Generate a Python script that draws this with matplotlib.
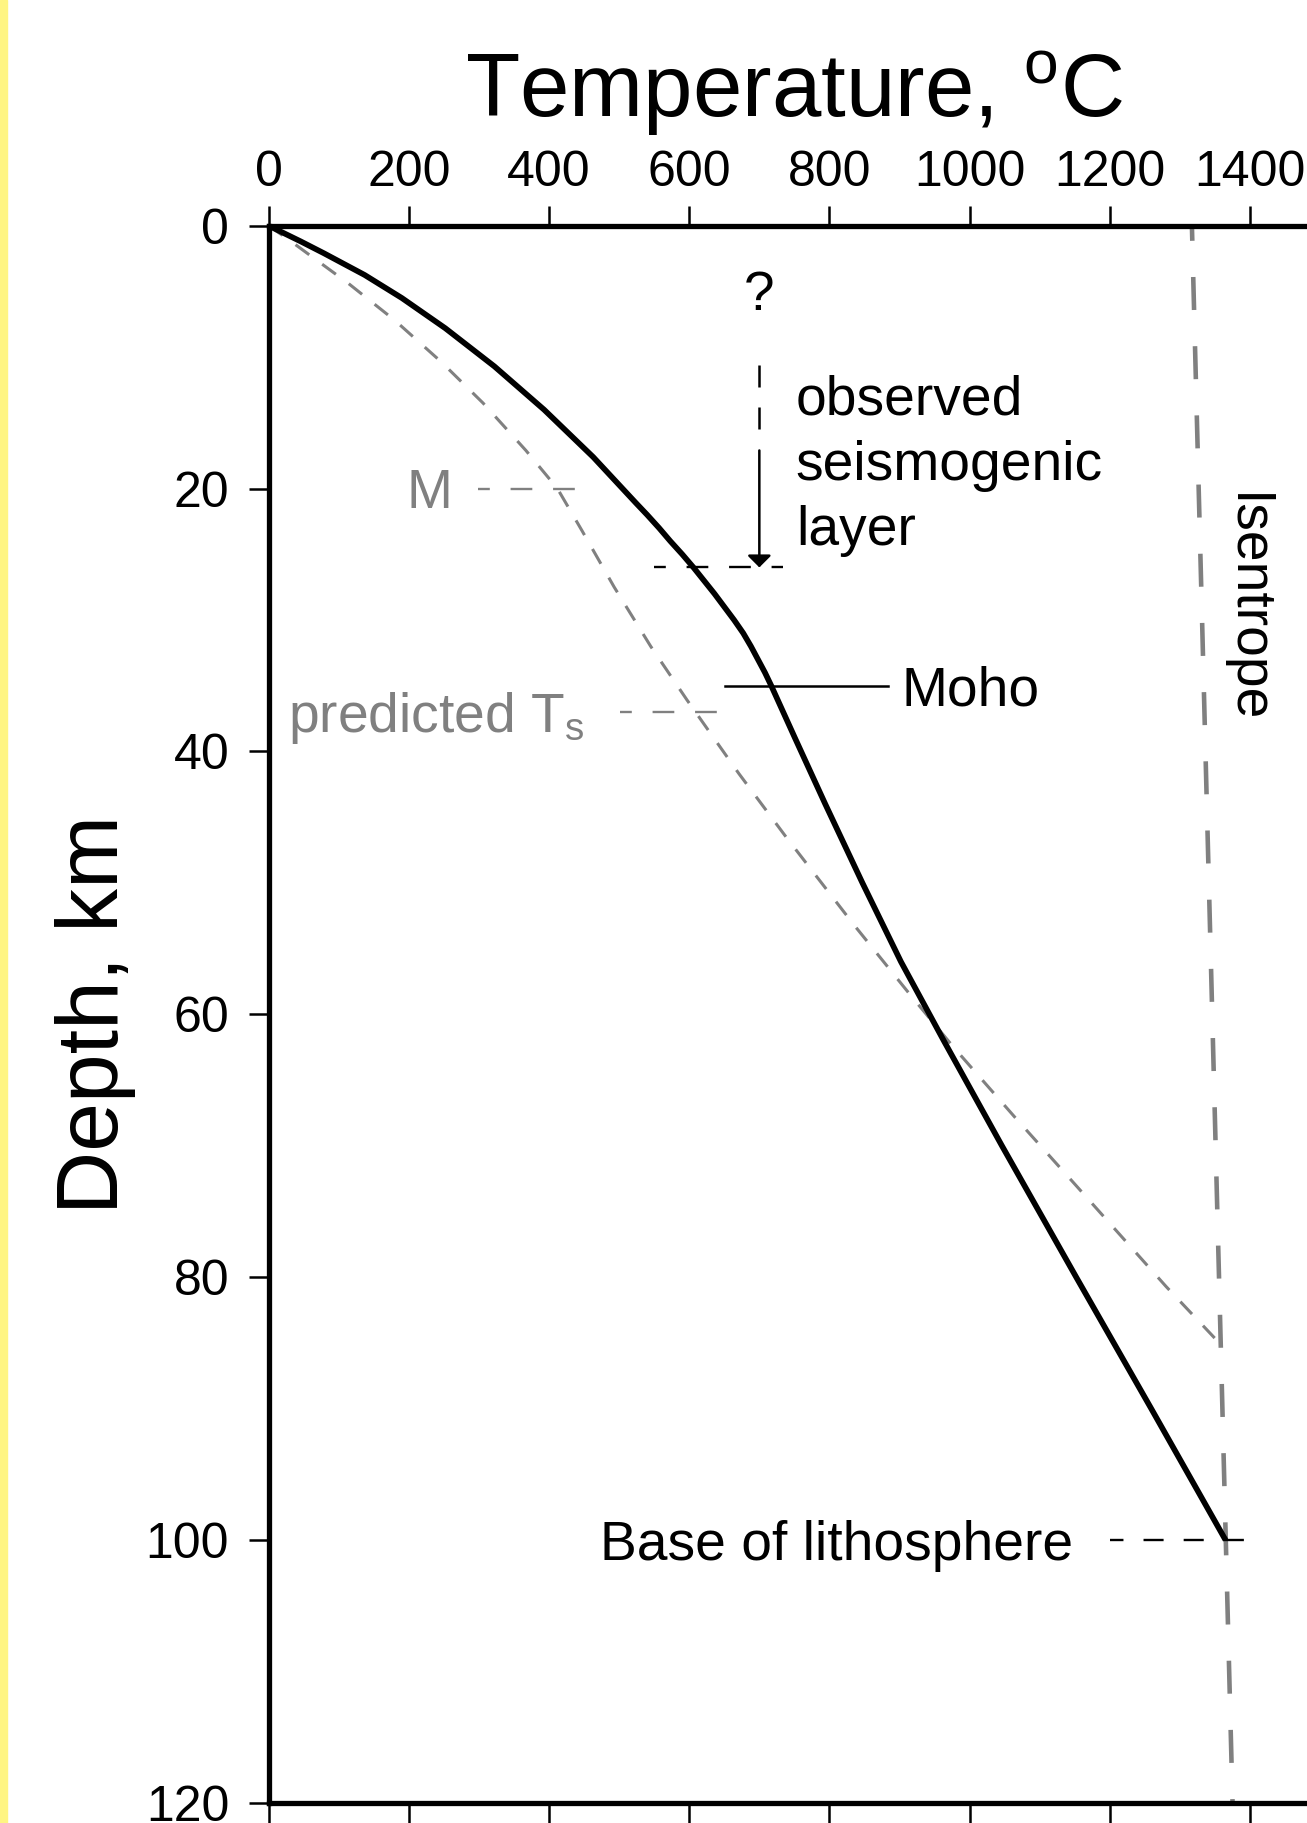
import numpy as np
import matplotlib.pyplot as plt
from matplotlib.patches import Rectangle

plt.rcParams['font.family'] = ['Liberation Sans', 'DejaVu Sans']
plt.rcParams['mathtext.fontset'] = 'custom'
plt.rcParams['mathtext.rm'] = 'Liberation Sans'
plt.rcParams['mathtext.it'] = 'Liberation Sans:italic'
plt.rcParams['mathtext.bf'] = 'Liberation Sans:bold'

# geotherm (solid), temperature in C against depth in km
geotherm_T = [0, 46, 79, 137, 190, 252, 322, 393, 463, 524, 540, 557, 573, 590, 606,
              621, 636, 650, 664, 677, 688, 698, 708, 717, 751, 794, 847, 902, 963,
              1046, 1152, 1259, 1365]
geotherm_z = [0, 1.2, 2.1, 3.75, 5.5, 7.8, 10.7, 14.0, 17.6, 21.1, 22.0, 23.0, 24.0, 25.0, 26.0,
              27.0, 28.0, 29.0, 30.0, 31.0, 32.0, 33.0, 34.0, 35.0, 39.0, 44.0, 50.0, 56.0, 62.0,
              70.0, 80.0, 90.0, 100.0]

# predicted geotherm (grey dashed)
predicted_T = [0, 26, 114, 180, 246, 306, 367, 412, 447, 493, 545, 597, 671, 738,
               835, 918, 977, 1064, 1153, 1280, 1356]
predicted_z = [0, 0.96, 4.4, 7.2, 10.35, 13.5, 17.1, 20.0, 23.2, 27.5, 32.0, 36.1, 41.7, 46.5,
               53.2, 58.7, 62.5, 67.8, 73.1, 80.7, 85.0]

# mantle isentrope
isentrope_T = [1317, 1375]
isentrope_z = [0, 120]

temp_ticks = [0, 200, 400, 600, 800, 1000, 1200, 1400]
depth_ticks = [0, 20, 40, 60, 80, 100, 120]

# marker depths (km)
seis_top = 10.6
seis_base = 26.0
moho_z = 35.0
m_z = 20.0
ts_z = 37.0
lith_z = 100.0
seis_T = 700

GREY = '0.5'
FS = 39.7

fig = plt.figure(figsize=(13.07, 18.23), dpi=100)
fig.add_artist(Rectangle((0, 0), 7 / 1307, 1, transform=fig.transFigure,
                         color='#fff582', zorder=0))
ax = fig.add_axes([0.2055, 0.011, 0.8046, 0.8652])

ax.plot(isentrope_T, isentrope_z, color=GREY, lw=3.3, linestyle=(3.9, (7.2, 7.9)))
ax.plot(predicted_T, predicted_z, color=GREY, lw=2.2, linestyle=(0, (5.56, 5.24)))
ax.plot(geotherm_T, geotherm_z, color='k', lw=4.1, solid_capstyle='butt',
        solid_joinstyle='round')

# seismogenic layer
ax.plot([seis_T, seis_T], [seis_top, 15.5], color='k', lw=1.8, linestyle=(0, (8.8, 8.0)))
ax.annotate('', xy=(seis_T, seis_base), xytext=(seis_T, 17.1),
            arrowprops=dict(arrowstyle='-|>,head_length=0.36,head_width=0.36',
                            color='k', lw=1.8, shrinkA=0, shrinkB=0, mutation_scale=20))
ax.plot([550, 734], [seis_base, seis_base], color='k', lw=1.7, linestyle=(4.2, (9.2, 8.8)))
ax.text(seis_T, 6.4, '?', ha='center', va='baseline', fontsize=FS)
for line, zb in zip(['observed', 'seismogenic', 'layer'], [14.4, 19.35, 24.3]):
    ax.text(752, zb, line, ha='left', va='baseline', fontsize=FS)

# Moho
ax.plot([651, 884], [moho_z, moho_z], color='k', lw=1.8)
ax.text(903, 36.5, 'Moho', ha='left', va='baseline', fontsize=FS)

# M and predicted Ts
ax.plot([298, 437], [m_z, m_z], color=GREY, lw=1.7, linestyle=(4.2, (9.2, 8.8)))
ax.text(262, 21.5, 'M', ha='right', va='baseline', fontsize=FS, color=GREY)
ax.plot([501, 639], [ts_z, ts_z], color=GREY, lw=1.7, linestyle=(4.2, (9.2, 8.8)))
ax.text(28, 38.5, r'predicted T$_{\rm s}$', ha='left', va='baseline', fontsize=FS, color=GREY)

# base of lithosphere
ax.plot([1200, 1400], [lith_z, lith_z], color='k', lw=1.7, linestyle=(2.8, (8.5, 8.5)))
ax.text(1148, 101.5, 'Base of lithosphere', ha='right', va='baseline', fontsize=FS)

ax.text(1374, 20.3, 'Isentrope', rotation=-90, rotation_mode='anchor',
        ha='left', va='baseline', fontsize=FS)

ax.set_xlim(0, 1500)
ax.set_ylim(120, 0)
ax.set_xticks(temp_ticks)
ax.set_yticks(depth_ticks)
ax.xaxis.set_label_position('top')
ax.set_xlabel(r'Temperature, $^{\rm o}$C', fontsize=64, labelpad=24)
ax.set_ylabel('Depth, km', fontsize=63, labelpad=7)
ax.tick_params(axis='x', top=True, bottom=True, labeltop=True, labelbottom=False,
               direction='out', length=14.4, width=1.8, pad=7, labelsize=36)
ax.tick_params(axis='y', left=True, right=False, direction='out',
               length=14.4, width=1.8, pad=14, labelsize=36)
for side in ['top', 'bottom', 'left', 'right']:
    ax.spines[side].set_linewidth(3.8)

plt.savefig('out.png', dpi=100)
